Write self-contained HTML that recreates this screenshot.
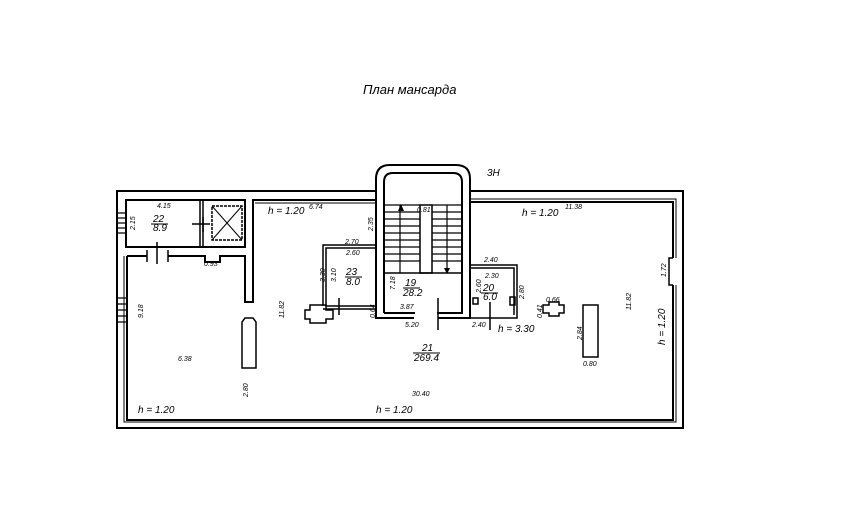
<!DOCTYPE html>
<html><head><meta charset="utf-8"><style>
html,body{margin:0;padding:0;background:#fff;width:859px;height:526px;overflow:hidden}
text{font-family:"Liberation Sans",sans-serif;font-style:italic;fill:#000}
</style></head><body>
<svg width="859" height="526" viewBox="0 0 859 526" xmlns="http://www.w3.org/2000/svg">
<g fill="none" stroke="#000" stroke-width="2">
<!-- outer boundary -->
<path d="M376,191 H117 V428 H683 V191 H470"/>
<path d="M376,191 V179 Q376,165 390,165 H456 Q470,165 470,179 V191"/>
<!-- inner main room -->
<path d="M127,256 V420 H673 V285 M673,258 V202 H471"/>
<path d="M124,256 V422 H676 V285 M676,258 V199 H471" stroke-width="1"/>
<!-- right bump -->
<path d="M673,258 H669 V285 H673" stroke-width="1.5"/>
<!-- left top rooms -->
<path d="M126,200 H245 V247 H126 Z"/>
<path d="M200,200 V247 M203,200 V247" stroke-width="1.5"/>
<path d="M127,256 H147 M168,256 H205 V262 H220 V256 H245 V302 H253 V256 V200 H376" />
<path d="M255,203 H376" stroke-width="1"/>
<!-- column left -->
<path d="M242,368 V322 L245,318 H253 L256,322 V368 Z" stroke-width="1.5"/>
<!-- stair tower inner -->
<path d="M384,313 V182 Q384,173 393,173 H453 Q462,173 462,182 V313 H437 M415,313 H384" />
<path d="M376,191 V318 H414 M438,318 H470 V191"/>
<!-- room 23 -->
<path d="M323,306 V245 H376 M326,306 V248 H376 M326,306 H376 M323,309 H376" stroke-width="1.5"/>
<!-- room 20 -->
<path d="M470,265 H517 V318 H470 M470,268 H514 V315" stroke-width="1.5"/>
<!-- stairs -->
<path d="M420,205 V273 H432 V205 Z" stroke-width="1.5"/>
<path d="M384,273 H462" stroke-width="1.5"/>
<!-- columns -->
<path d="M583,305 H598 V357 H583 Z" stroke-width="1.5"/>
<path d="M305,310 H310 V305 H326 V310 H333 V319 H326 V323 H310 V319 H305 Z" stroke-width="1.5"/>
<path d="M543,305 H549 V302 H559 V305 H564 V313 H559 V316 H549 V313 H543 Z" stroke-width="1.5"/>
<!-- elevator -->
<rect x="212" y="206" width="30" height="34" stroke-dasharray="3,1" stroke-width="1.5"/>
<path d="M212,206 L242,240 M242,206 L212,240" stroke-width="1"/>
<!-- door ticks -->
<path d="M192,224 H210 M203,217 V232 M157,242 V264 M147,250 V262 M168,250 V262 M339,298 V315 M438,298 V330 M490,302 V330" stroke-width="1.5"/>
</g>
<!-- stair treads -->
<g stroke="#000" stroke-width="1.2">
<path d="M385,205H420M385,212H420M385,219H420M385,226H420M385,233H420M385,240H420M385,247H420M385,254H420M385,261H420"/>
<path d="M432,205H462M432,212H462M432,219H462M432,226H462M432,233H462M432,240H462M432,247H462M432,254H462M432,261H462"/>
<path d="M400,205V273M447,205V273"/>
<path d="M117,213H126M117,218H126M117,223H126M117,228H126M117,233H126M117,298H126M117,304H126M117,310H126M117,316H126M117,322H126"/>
</g>
<path d="M401,204 L398,211 H404 Z M447,274 L444,268 H450 Z" fill="#000"/>
<text x="363" y="94" font-size="13">План мансарда</text>
<text x="487" y="176" font-size="10">3Н</text>
<g font-size="10">
<text x="268" y="214">h = 1.20</text>
<text x="522" y="216">h = 1.20</text>
<text x="138" y="413">h = 1.20</text>
<text x="376" y="413">h = 1.20</text>
<text x="498" y="332">h = 3.30</text>
<text transform="translate(665,345) rotate(-90)">h = 1.20</text>
<text x="153" y="222" font-size="10">22</text><text x="153" y="231">8.9</text>
<text x="346" y="275">23</text><text x="346" y="285">8.0</text>
<text x="405" y="286">19</text><text x="403" y="296">28.2</text>
<text x="483" y="291">20</text><text x="483" y="300">6.0</text>
<text x="422" y="351">21</text><text x="414" y="361">269.4</text>
</g>
<g stroke="#000" stroke-width="1"><path d="M151,224H168M345,277H362M403,288H420M481,293H498M413,353H440"/></g>
<g font-size="7">
<text x="157" y="208">4.15</text><text x="309" y="209">6.74</text><text x="565" y="209">11.38</text>
<text x="345" y="244">2.70</text><text x="346" y="255">2.60</text>
<text x="417" y="212">0.81</text><text x="204" y="266">0.93</text>
<text x="484" y="262">2.40</text><text x="485" y="278">2.30</text>
<text x="400" y="309">3.87</text><text x="405" y="327">5.20</text><text x="472" y="327">2.40</text>
<text x="546" y="302">0.66</text><text x="583" y="366">0.80</text>
<text x="178" y="361">6.38</text><text x="412" y="396">30.40</text>
<text transform="translate(135,230) rotate(-90)">2.15</text>
<text transform="translate(143,318) rotate(-90)">9.18</text>
<text transform="translate(284,318) rotate(-90)">11.82</text>
<text transform="translate(373,231) rotate(-90)">2.35</text>
<text transform="translate(325,282) rotate(-90)">3.30</text>
<text transform="translate(336,282) rotate(-90)">3.10</text>
<text transform="translate(395,290) rotate(-90)">7.18</text>
<text transform="translate(375,318) rotate(-90)">0.64</text>
<text transform="translate(481,293) rotate(-90)">2.60</text>
<text transform="translate(524,299) rotate(-90)">2.80</text>
<text transform="translate(542,318) rotate(-90)">0.41</text>
<text transform="translate(582,340) rotate(-90)">2.84</text>
<text transform="translate(631,310) rotate(-90)">11.82</text>
<text transform="translate(666,277) rotate(-90)">1.72</text>
<text transform="translate(248,397) rotate(-90)">2.80</text>
</g>
<path d="M473,298h5v6h-5z M510,297h5v8h-5z" fill="none" stroke="#000" stroke-width="1.5"/>
</svg>
</body></html>
